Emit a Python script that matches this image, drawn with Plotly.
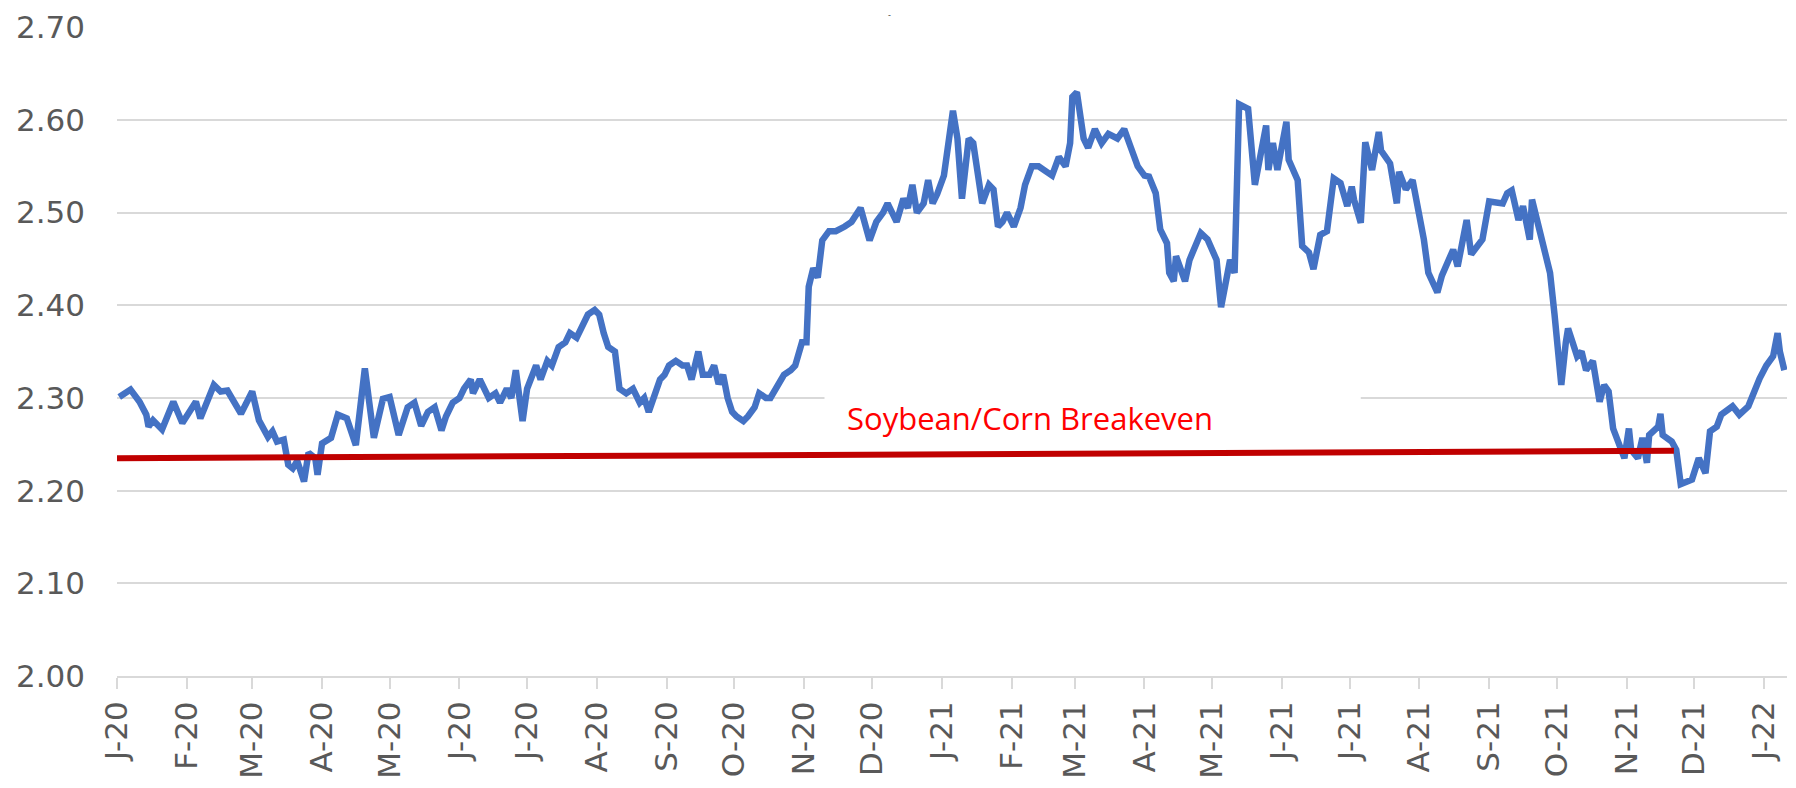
import plotly.graph_objects as go

# soybean/corn price ratio
dates = [
    "2020-01-02", "2020-01-07", "2020-01-11", "2020-01-14", "2020-01-15", "2020-01-17", "2020-01-21",
    "2020-01-26", "2020-01-30", "2020-02-05", "2020-02-07", "2020-02-13", "2020-02-16", "2020-02-19",
    "2020-02-25", "2020-03-01", "2020-03-04", "2020-03-08", "2020-03-10", "2020-03-12", "2020-03-15",
    "2020-03-17", "2020-03-19", "2020-03-21", "2020-03-24", "2020-03-26", "2020-03-29", "2020-03-30",
    "2020-04-01", "2020-04-05", "2020-04-08", "2020-04-12", "2020-04-16", "2020-04-20", "2020-04-24",
    "2020-04-28", "2020-05-01", "2020-05-05", "2020-05-09", "2020-05-12", "2020-05-15", "2020-05-18",
    "2020-05-21", "2020-05-24", "2020-05-26", "2020-05-29", "2020-06-01", "2020-06-03", "2020-06-06",
    "2020-06-07", "2020-06-10", "2020-06-12", "2020-06-14", "2020-06-17", "2020-06-19", "2020-06-22",
    "2020-06-24", "2020-06-26", "2020-06-27", "2020-06-29", "2020-07-01", "2020-07-03", "2020-07-05",
    "2020-07-07", "2020-07-10", "2020-07-12", "2020-07-15", "2020-07-18", "2020-07-20", "2020-07-23",
    "2020-07-25", "2020-07-28", "2020-07-31", "2020-08-02", "2020-08-04", "2020-08-06", "2020-08-09",
    "2020-08-11", "2020-08-14", "2020-08-17", "2020-08-20", "2020-08-22", "2020-08-24", "2020-08-26",
    "2020-08-29", "2020-08-31", "2020-09-02", "2020-09-05", "2020-09-08", "2020-09-10", "2020-09-12",
    "2020-09-15", "2020-09-17", "2020-09-20", "2020-09-22", "2020-09-24", "2020-09-26", "2020-09-28",
    "2020-09-30", "2020-10-02", "2020-10-05", "2020-10-07", "2020-10-10", "2020-10-12", "2020-10-15",
    "2020-10-17", "2020-10-21", "2020-10-23", "2020-10-26", "2020-10-28", "2020-10-31", "2020-11-02",
    "2020-11-03", "2020-11-05", "2020-11-07", "2020-11-09", "2020-11-12", "2020-11-15", "2020-11-19",
    "2020-11-22", "2020-11-26", "2020-11-28", "2020-11-30", "2020-12-03", "2020-12-06", "2020-12-08",
    "2020-12-10", "2020-12-12", "2020-12-15", "2020-12-17", "2020-12-19", "2020-12-21", "2020-12-24",
    "2020-12-26", "2020-12-28", "2020-12-30", "2021-01-02", "2021-01-04", "2021-01-06", "2021-01-08",
    "2021-01-10", "2021-01-13", "2021-01-15", "2021-01-19", "2021-01-22", "2021-01-24", "2021-01-26",
    "2021-01-28", "2021-01-30", "2021-02-02", "2021-02-05", "2021-02-07", "2021-02-10", "2021-02-13",
    "2021-02-16", "2021-02-19", "2021-02-22", "2021-02-25", "2021-02-27", "2021-02-28", "2021-03-02",
    "2021-03-05", "2021-03-07", "2021-03-10", "2021-03-13", "2021-03-16", "2021-03-20", "2021-03-23",
    "2021-03-26", "2021-03-29", "2021-04-01", "2021-04-03", "2021-04-06", "2021-04-08", "2021-04-11",
    "2021-04-12", "2021-04-14", "2021-04-15", "2021-04-19", "2021-04-21", "2021-04-26", "2021-04-29",
    "2021-05-03", "2021-05-05", "2021-05-09", "2021-05-11", "2021-05-13", "2021-05-17", "2021-05-20",
    "2021-05-25", "2021-05-26", "2021-05-28", "2021-05-30", "2021-06-03", "2021-06-04", "2021-06-08",
    "2021-06-10", "2021-06-13", "2021-06-15", "2021-06-18", "2021-06-21", "2021-06-24", "2021-06-27",
    "2021-06-30", "2021-07-02", "2021-07-03", "2021-07-06", "2021-07-08", "2021-07-11", "2021-07-14",
    "2021-07-15", "2021-07-19", "2021-07-22", "2021-07-23", "2021-07-26", "2021-07-29", "2021-08-03",
    "2021-08-05", "2021-08-09", "2021-08-11", "2021-08-16", "2021-08-18", "2021-08-22", "2021-08-24",
    "2021-08-29", "2021-09-01", "2021-09-07", "2021-09-09", "2021-09-11", "2021-09-14", "2021-09-16",
    "2021-09-19", "2021-09-20", "2021-09-23", "2021-09-28", "2021-09-30", "2021-10-02", "2021-10-03",
    "2021-10-05", "2021-10-06", "2021-10-08", "2021-10-10", "2021-10-12", "2021-10-14", "2021-10-17",
    "2021-10-20", "2021-10-22", "2021-10-24", "2021-10-26", "2021-10-28", "2021-10-31", "2021-11-02",
    "2021-11-03", "2021-11-06", "2021-11-08", "2021-11-10", "2021-11-11", "2021-11-15", "2021-11-16",
    "2021-11-17", "2021-11-21", "2021-11-23", "2021-11-25", "2021-11-30", "2021-12-03", "2021-12-06",
    "2021-12-08", "2021-12-11", "2021-12-13", "2021-12-18", "2021-12-21", "2021-12-25", "2021-12-28",
    "2021-12-30", "2022-01-02", "2022-01-05", "2022-01-07", "2022-01-08", "2022-01-10",
]
ratio = [
    2.301, 2.309, 2.296, 2.282, 2.269, 2.276, 2.266,
    2.296, 2.273, 2.296, 2.278, 2.314, 2.307, 2.308,
    2.283, 2.307, 2.276, 2.258, 2.264, 2.253, 2.255,
    2.228, 2.224, 2.232, 2.210, 2.241, 2.235, 2.217,
    2.251, 2.257, 2.282, 2.278, 2.249, 2.332, 2.257,
    2.299, 2.301, 2.260, 2.290, 2.295, 2.270, 2.285,
    2.290, 2.265, 2.280, 2.295, 2.300, 2.310, 2.320,
    2.305, 2.320, 2.310, 2.300, 2.305, 2.295, 2.310,
    2.300, 2.330, 2.310, 2.275, 2.310, 2.325, 2.335,
    2.320, 2.340, 2.335, 2.355, 2.360, 2.370, 2.365,
    2.375, 2.390, 2.395, 2.390, 2.370, 2.355, 2.350,
    2.310, 2.305, 2.310, 2.295, 2.300, 2.285, 2.300,
    2.320, 2.325, 2.335, 2.340, 2.335, 2.335, 2.320,
    2.350, 2.325, 2.325, 2.335, 2.315, 2.325, 2.300,
    2.285, 2.280, 2.275, 2.280, 2.290, 2.305, 2.300,
    2.300, 2.315, 2.325, 2.330, 2.335, 2.360, 2.360,
    2.420, 2.440, 2.430, 2.470, 2.480, 2.480, 2.485,
    2.490, 2.505, 2.490, 2.470, 2.490, 2.500, 2.510,
    2.500, 2.490, 2.515, 2.505, 2.530, 2.500, 2.510,
    2.535, 2.510, 2.520, 2.540, 2.575, 2.610, 2.580,
    2.515, 2.580, 2.575, 2.510, 2.530, 2.525, 2.485,
    2.490, 2.500, 2.485, 2.505, 2.530, 2.550, 2.550,
    2.545, 2.540, 2.560, 2.550, 2.575, 2.625, 2.630,
    2.580, 2.570, 2.590, 2.575, 2.585, 2.580, 2.590,
    2.570, 2.550, 2.540, 2.539, 2.521, 2.482, 2.467,
    2.435, 2.426, 2.453, 2.426, 2.449, 2.478, 2.471,
    2.449, 2.398, 2.449, 2.435, 2.617, 2.612, 2.530,
    2.594, 2.546, 2.575, 2.546, 2.598, 2.557, 2.535,
    2.464, 2.457, 2.439, 2.476, 2.480, 2.537, 2.532,
    2.507, 2.528, 2.514, 2.489, 2.576, 2.546, 2.587,
    2.567, 2.553, 2.510, 2.544, 2.525, 2.535, 2.471,
    2.435, 2.414, 2.432, 2.460, 2.442, 2.492, 2.455,
    2.471, 2.512, 2.510, 2.521, 2.524, 2.492, 2.507,
    2.471, 2.514, 2.485, 2.435, 2.390, 2.330, 2.314,
    2.360, 2.375, 2.360, 2.345, 2.350, 2.330, 2.340,
    2.296, 2.314, 2.307, 2.267, 2.253, 2.235, 2.267,
    2.244, 2.235, 2.257, 2.230, 2.260, 2.269, 2.283,
    2.260, 2.253, 2.244, 2.207, 2.212, 2.235, 2.219,
    2.264, 2.269, 2.282, 2.291, 2.282, 2.291, 2.310,
    2.321, 2.335, 2.345, 2.370, 2.350, 2.330,
]

# breakeven line end points
breakeven_dates = ["2020-01-01", "2021-11-22"]
breakeven_vals = [2.235, 2.243]

y_ticks = [2.0, 2.1, 2.2, 2.3, 2.4, 2.5, 2.6, 2.7]

month_ticks = [
    "2020-01-01", "2020-02-01", "2020-03-01", "2020-04-01", "2020-05-01", "2020-06-01", "2020-07-01",
    "2020-08-01", "2020-09-01", "2020-10-01", "2020-11-01", "2020-12-01", "2021-01-01", "2021-02-01",
    "2021-03-01", "2021-04-01", "2021-05-01", "2021-06-01", "2021-07-01", "2021-08-01", "2021-09-01",
    "2021-10-01", "2021-11-01", "2021-12-01", "2022-01-01",
]
month_labels = [
    "J-20", "F-20", "M-20", "A-20", "M-20", "J-20", "J-20", "A-20", "S-20", "O-20", "N-20", "D-20",
    "J-21", "F-21", "M-21", "A-21", "M-21", "J-21", "J-21", "A-21", "S-21", "O-21", "N-21", "D-21",
    "J-22",
]

grid = "#d9d9d9"
label_font = dict(family="DejaVu Sans", size=31, color="#595959")

fig = go.Figure()

fig.add_trace(go.Scatter(x=dates, y=ratio, mode="lines",
                         line=dict(color="#4472c4", width=6.5), hoverinfo="skip"))
fig.add_trace(go.Scatter(x=breakeven_dates, y=breakeven_vals, mode="lines",
                         line=dict(color="#c00000", width=6), hoverinfo="skip"))

# white text box behind the label hides the 2.30 gridline
fig.add_shape(type="rect", x0="2020-11-10", x1="2021-07-06", y0=2.25, y1=2.315,
              fillcolor="white", line=dict(width=0), layer="between")

fig.add_annotation(x="2021-02-09", y=2.278, text="Soybean/Corn Breakeven", showarrow=False,
                   font=dict(family="Open Sans", size=31, color="#ff0000"))

# stray little tick above the plot in the original
fig.add_annotation(x="2020-12-09", y=1.026, yref="paper", yanchor="top", text="-",
                   showarrow=False, borderpad=0,
                   font=dict(family="DejaVu Sans", size=8, color="#404040"))

# page body keeps its 8px margin, so the figure is 16px smaller than the window
fig.update_layout(
    width=1780, height=772,
    margin=dict(l=109, r=1, t=18, b=100),
    paper_bgcolor="white", plot_bgcolor="white",
    showlegend=False,
)

fig.update_xaxes(
    range=["2020-01-01", "2022-01-11 04:00"],
    tickvals=month_ticks, ticktext=month_labels, tickangle=-90,
    tickfont=label_font,
    showgrid=False, zeroline=False,
    showline=True, linecolor=grid, linewidth=2,
    ticks="outside", ticklen=11, tickwidth=2, tickcolor=grid,
)
fig.update_yaxes(
    range=[2.0, 2.7003], tickvals=y_ticks, tickformat=".2f",
    tickfont=label_font,
    showgrid=True, gridcolor=grid, gridwidth=2,
    zeroline=False, showline=False,
    ticklabelstandoff=31,
)

fig.write_html("out.html")
